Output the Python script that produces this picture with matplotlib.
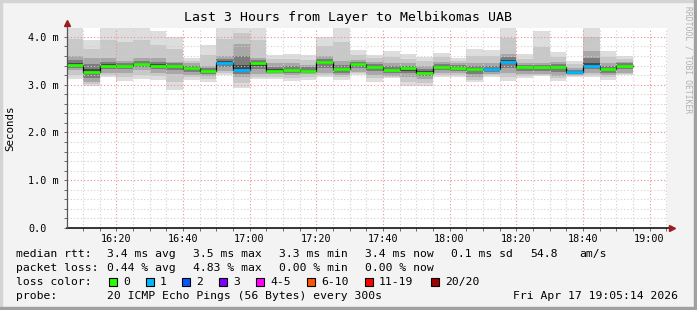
import matplotlib
matplotlib.use('Agg')
import numpy as np
import pandas as pd
import matplotlib.pyplot as plt
import matplotlib.dates as mdates
from matplotlib.patches import Rectangle
from matplotlib.ticker import MultipleLocator

plt.rcParams['font.family'] = 'DejaVu Sans Mono'

# ---- data (ms), one entry per 5 minute step starting 16:05 ----
starts = pd.date_range('2026-04-17 16:05', periods=34, freq='5min')
median_ms = [3.42, 3.27, 3.40, 3.40, 3.44, 3.40, 3.40, 3.34, 3.29, 3.46, 3.30, 3.46,
             3.29, 3.31, 3.29, 3.48, 3.32, 3.43, 3.38, 3.31, 3.34, 3.25, 3.38, 3.35,
             3.33, 3.33, 3.48, 3.36, 3.38, 3.38, 3.27, 3.40, 3.32, 3.40]
smoke_hi = [4.30, 3.94, 4.30, 4.30, 4.30, 4.12, 4.00, 3.55, 3.83, 4.30, 4.30, 4.30,
            3.62, 3.64, 3.62, 4.00, 4.30, 3.73, 3.62, 3.71, 3.64, 3.57, 3.67, 3.55,
            3.75, 3.73, 4.30, 3.64, 4.12, 3.69, 3.50, 4.30, 3.71, 3.59]
smoke_lo = [3.12, 2.97, 3.16, 3.08, 3.11, 3.10, 2.88, 3.10, 3.06, 3.20, 2.94, 3.12,
            3.11, 3.08, 3.10, 3.16, 3.10, 3.20, 3.06, 3.13, 2.97, 2.97, 3.17, 3.17,
            3.06, 3.17, 3.08, 3.13, 3.18, 3.08, 3.16, 3.17, 3.10, 3.20]
core_hi = [3.60, 3.55, 3.55, 3.50, 3.55, 3.55, 3.48, 3.45, 3.40, 3.60, 3.85, 3.55,
           3.45, 3.45, 3.42, 3.60, 3.50, 3.52, 3.48, 3.45, 3.45, 3.40, 3.48, 3.45,
           3.45, 3.45, 3.65, 3.45, 3.45, 3.48, 3.35, 3.70, 3.45, 3.48]
core_lo = [3.30, 3.05, 3.25, 3.25, 3.30, 3.25, 3.22, 3.20, 3.18, 3.28, 3.15, 3.22,
           3.22, 3.20, 3.22, 3.25, 3.20, 3.27, 3.20, 3.18, 3.15, 3.12, 3.25, 3.25,
           3.15, 3.22, 3.25, 3.22, 3.22, 3.18, 3.20, 3.25, 3.20, 3.25]
lost_pings = [0, 0, 0, 0, 0, 0, 0, 0, 0, 1, 1, 0, 0, 0, 0, 0, 0, 0, 0, 0, 0, 0, 0, 0,
              0, 1, 1, 0, 0, 0, 1, 1, 0, 0]

loss_labels = ['0', '1', '2', '3', '4-5', '6-10', '11-19', '20/20']
loss_cols = ['#26ff00', '#00b8ff', '#0059ff', '#7e00ff', '#ff00ff', '#ff5500', '#ff0000', '#a10000']
yticks = [0, 1, 2, 3, 4]
ytick_labels = ['0.0', '1.0 m', '2.0 m', '3.0 m', '4.0 m']

W, H = 697, 310
fig = plt.figure(figsize=(W / 100, H / 100), dpi=100, facecolor='#f3f3f3')
ax = fig.add_axes([67 / W, (H - 228) / H, 600 / W, 200 / H])
ax.set_facecolor('white')

x = mdates.date2num(starts.to_pydatetime())
w = 5 / 1440
med = np.array(median_ms)
lo, hi = np.array(smoke_lo), np.array(smoke_hi)
clo, chi = np.array(core_lo), np.array(core_hi)

# smoke, light outside -> dark near the median
tiers = [
    (lo, hi, '#dddddd'),
    ((lo + clo) / 2, (hi + chi) / 2, '#c8c8c8'),
    (clo, chi, '#a8a8a8'),
    (med - (med - clo) * 0.55, med + (chi - med) * 0.55, '#7c7c7c'),
    (med - (med - clo) * 0.25, med + (chi - med) * 0.2, '#484848'),
]
for b, t, c in tiers:
    ax.bar(x, t - b, bottom=b, width=w, align='edge', color=c, lw=0, zorder=1)

ax.step(np.r_[x, x[-1] + w], np.r_[med, med[-1]], where='post',
        color='black', lw=0.9, zorder=3)
ax.hlines(med, x, x + w, colors=[loss_cols[n] for n in lost_pings], lw=2, zorder=4)

t0 = pd.Timestamp('2026-04-17 16:05:14')
ax.set_xlim(mdates.date2num(t0), mdates.date2num(t0 + pd.Timedelta(hours=3)))
ax.set_ylim(0, 4.186)

ax.xaxis.set_major_locator(mdates.MinuteLocator(byminute=[0, 20, 40]))
ax.xaxis.set_minor_locator(mdates.MinuteLocator(byminute=range(0, 60, 5)))
ax.xaxis.set_major_formatter(mdates.DateFormatter('%H:%M'))
ax.set_yticks(yticks, ytick_labels)
ax.yaxis.set_minor_locator(MultipleLocator(0.2))
for lbl in ax.get_yticklabels():
    lbl.set_ha('left')

ax.set_axisbelow(False)
ax.grid(which='minor', color='#cfcfcf', linestyle=(0, (1, 2)), lw=0.8)
ax.grid(which='major', color='#eb9090', linestyle=(0, (1, 2)), lw=0.8)
ax.tick_params(which='both', length=2, width=0.6, color='#555555', labelsize=7.3)
ax.tick_params(axis='x', pad=2)
ax.tick_params(axis='y', pad=26)
for s in ax.spines.values():
    s.set_visible(False)

# axes with arrows
ax.plot([0, 1.006], [0, 0], transform=ax.transAxes, color='black', lw=1.1, clip_on=False, zorder=6)
ax.plot([0, 0], [0, 1.02], transform=ax.transAxes, color='#555555', lw=0.9, clip_on=False, zorder=6)
ax.plot([1.009], [0], marker='>', ms=4, color='#9b1c1c', transform=ax.transAxes, clip_on=False, zorder=7)
ax.plot([0], [1.024], marker='^', ms=4, color='#9b1c1c', transform=ax.transAxes, clip_on=False, zorder=7)


def px(xp, yp):
    return xp / W, 1 - yp / H


fig.text(*px(348, 18), 'Last 3 Hours from Layer to Melbikomas UAB', ha='center', va='center', fontsize=9.5)
fig.text(*px(10, 128), 'Seconds', rotation=90, ha='center', va='center', fontsize=7.8)
fig.text(*px(688, 60), 'RRDTOOL / TOBI OETIKER', rotation=270, ha='center', va='center',
         fontsize=5.8, color='#b0b0b0')

fs = 8.2
rows = [
    (254, [(16, 'median rtt:'), (107, '3.4 ms avg'), (193, '3.5 ms max'), (279, '3.3 ms min'),
           (365, '3.4 ms now'), (451, '0.1 ms sd'), (530, '54.8'), (579, 'am/s')]),
    (268, [(16, 'packet loss:'), (107, '0.44 % avg'), (193, '4.83 % max'), (279, '0.00 % min'),
           (365, '0.00 % now')]),
    (282, [(16, 'loss color:')]),
    (296, [(16, 'probe:'), (107, '20 ICMP Echo Pings (56 Bytes) every 300s'),
           (513, 'Fri Apr 17 19:05:14 2026')]),
]
for yp, items in rows:
    for xp, s in items:
        fig.text(*px(xp, yp), s, ha='left', va='center', fontsize=fs)

box_x = [109, 146, 182, 219, 256, 307, 365, 431]
for bx, lab, col in zip(box_x, loss_labels, loss_cols):
    fig.patches.append(Rectangle(px(bx, 286), 8 / W, 8 / H, transform=fig.transFigure,
                                 facecolor=col, edgecolor='black', lw=0.8))
    fig.text(*px(bx + 14, 282), lab, ha='left', va='center', fontsize=fs)

# image frame
fig.patches.append(Rectangle((0, 1 - 2 / H), 1, 2 / H, transform=fig.transFigure, color='#d4d4d4'))
fig.patches.append(Rectangle((0, 0), 2 / W, 1, transform=fig.transFigure, color='#d4d4d4'))
fig.patches.append(Rectangle((0, 0), 1, 3 / H, transform=fig.transFigure, color='#a0a0a0'))
fig.patches.append(Rectangle((1 - 3 / W, 0), 3 / W, 1, transform=fig.transFigure, color='#a0a0a0'))

fig.savefig('out.png', dpi=100, facecolor=fig.get_facecolor())
